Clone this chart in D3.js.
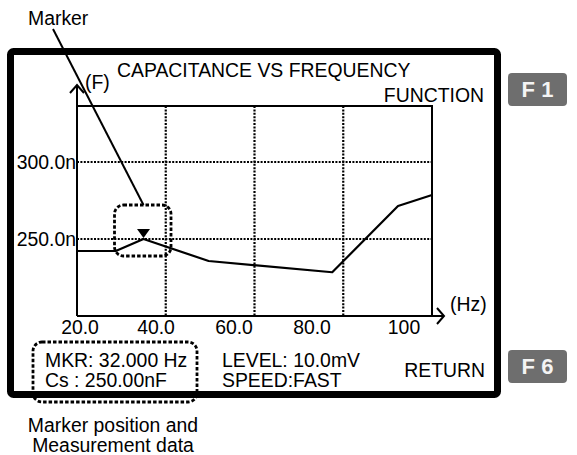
<!DOCTYPE html>
<html>
<head>
<meta charset="utf-8">
<script src="https://cdn.jsdelivr.net/npm/d3@7"></script>
<style>
  html, body { margin: 0; padding: 0; background: #ffffff; }
  svg { display: block; }
  text { font-family: "Liberation Sans", Arial, Helvetica, sans-serif; fill: #000; }
</style>
</head>
<body>
<svg id="chart" width="577" height="455"></svg>
<script>
// Sweep trace: frequency (Hz) and capacitance Cs (nF)
const freqHz = [20, 27, 32, 53.5, 84.4, 98.7, 106];
const capNF  = [242.2, 242.2, 250, 235.7, 228.4, 271.4, 278.6];

// Axis ticks
const xTicks = [20, 40, 60, 80, 100];
const xTickLabels = ["20.0", "40.0", "60.0", "80.0", "100"];
const yTicks = [250, 300];
const yTickLabels = ["250.0n", "300.0n"];

// Marker reading
const markerHz = [32];
const markerNF = [250];

// Screen texts
const titleText = "CAPACITANCE VS FREQUENCY";
const statusLeft = ["MKR: 32.000 Hz", "Cs : 250.00nF"];
const statusMid = ["LEVEL: 10.0mV", "SPEED:FAST"];
const softKeys = ["F 1", "F 6"];
const softKeyLabels = ["FUNCTION", "RETURN"];
const calloutMarker = "Marker";
const calloutData = ["Marker position and", "Measurement data"];

const svg = d3.select("#chart");
const FONT = 19.4;

// Plot box
const plot = { left: 77, right: 432, top: 106, bottom: 316 };

// The display's frequency axis is not uniform: stops follow the labelled divisions
const x = d3.scaleLinear()
  .domain([20, 32, 40, 60, 80, 100, 106])
  .range([77, 143.5, 156, 234, 312, 404, 432]);
const y = d3.scaleLinear().domain([200, 300]).range([plot.bottom, 162]);

// Instrument screen frame
svg.append("rect")
  .attr("x", 10.5).attr("y", 51.5).attr("width", 487).attr("height", 343)
  .attr("rx", 3).attr("fill", "none").attr("stroke", "#000").attr("stroke-width", 7);

// Grid: vertical divisions split the plot in four, horizontal lines at y ticks
const dot = "2,1.4";
const vDiv = d3.range(1, 4).map(i => plot.left + (plot.right - plot.left) * i / 4);
svg.append("g").selectAll("line").data(vDiv).join("line")
  .attr("x1", d => d).attr("x2", d => d)
  .attr("y1", plot.top).attr("y2", plot.bottom)
  .attr("stroke", "#000").attr("stroke-width", 2.2).attr("stroke-dasharray", dot);
svg.append("g").selectAll("line").data(yTicks).join("line")
  .attr("x1", plot.left).attr("x2", plot.right)
  .attr("y1", d => y(d)).attr("y2", d => y(d))
  .attr("stroke", "#000").attr("stroke-width", 2.2).attr("stroke-dasharray", dot);

// Plot border (top and right)
svg.append("path")
  .attr("d", `M${plot.left},${plot.top}H${plot.right}V${plot.bottom}`)
  .attr("fill", "none").attr("stroke", "#000").attr("stroke-width", 2);

// Axes with arrow heads
const axes = svg.append("g").attr("fill", "none").attr("stroke", "#000").attr("stroke-width", 2);
axes.append("path").attr("d", `M${plot.left},${plot.bottom}V85`);
axes.append("path").attr("d", `M${plot.left - 7},93L${plot.left},85L${plot.left + 7},93`);
axes.append("path").attr("d", `M${plot.left},${plot.bottom}H444`);
axes.append("path").attr("d", `M437,308L444,${plot.bottom}L437,324`);

// Tick labels
svg.append("g").selectAll("text").data(xTicks).join("text")
  .attr("x", (d, i) => i === 0 ? x(d) + 3 : x(d)).attr("y", 334)
  .attr("text-anchor", "middle").attr("font-size", FONT)
  .text((d, i) => xTickLabels[i]);
svg.append("g").selectAll("text").data(yTicks).join("text")
  .attr("x", 76).attr("y", d => y(d)).attr("dy", "0.35em")
  .attr("text-anchor", "end").attr("font-size", FONT)
  .text((d, i) => yTickLabels[i]);

// Axis units
svg.append("text").attr("x", 85).attr("y", 89).attr("font-size", FONT).text("(F)");
svg.append("text").attr("x", 450).attr("y", 311).attr("font-size", FONT).text("(Hz)");

// Title and soft-key labels
svg.append("text").attr("x", 117).attr("y", 77).attr("font-size", FONT).text(titleText);
svg.append("text").attr("x", 484).attr("y", 102).attr("text-anchor", "end")
  .attr("font-size", FONT).text(softKeyLabels[0]);
svg.append("text").attr("x", 485).attr("y", 377).attr("text-anchor", "end")
  .attr("font-size", FONT).text(softKeyLabels[1]);

// Trace
const pts = freqHz.map((f, i) => [f, capNF[i]]);
svg.append("path")
  .attr("d", d3.line().x(d => x(d[0])).y(d => y(d[1]))(pts))
  .attr("fill", "none").attr("stroke", "#000").attr("stroke-width", 2.2)
  .attr("stroke-linejoin", "round");

// Marker triangle, pointing down onto the trace
const mx = x(markerHz[0]), my = y(markerNF[0]);
svg.append("path")
  .attr("d", `M${mx - 6.5},${my - 10}L${mx + 6.5},${my - 10}L${mx},${my - 1}Z`)
  .attr("fill", "#000");

// Callout box around the marker and its leader line
const dash = "3.5,2";
const mBox = { x0: mx - 29, x1: mx + 27.5, y0: my - 34, y1: my + 17 };
svg.append("rect")
  .attr("x", mBox.x0).attr("y", mBox.y0)
  .attr("width", mBox.x1 - mBox.x0).attr("height", mBox.y1 - mBox.y0)
  .attr("rx", 9).attr("fill", "none").attr("stroke", "#000")
  .attr("stroke-width", 2.8).attr("stroke-dasharray", dash);
svg.append("line")
  .attr("x1", 53).attr("y1", 29).attr("x2", mx).attr("y2", mBox.y0)
  .attr("stroke", "#000").attr("stroke-width", 2);
svg.append("text").attr("x", 28).attr("y", 25).attr("font-size", FONT).text(calloutMarker);

// Status lines
svg.append("g").selectAll("text").data(statusLeft).join("text")
  .attr("x", 45).attr("y", (d, i) => 367 + i * 20).attr("font-size", FONT).text(d => d);
svg.append("g").selectAll("text").data(statusMid).join("text")
  .attr("x", 222).attr("y", (d, i) => 367 + i * 20).attr("font-size", FONT).text(d => d);

// Callout box around the marker readout
svg.append("rect")
  .attr("x", 33).attr("y", 342).attr("width", 164).attr("height", 60)
  .attr("rx", 9).attr("fill", "none").attr("stroke", "#000")
  .attr("stroke-width", 2.8).attr("stroke-dasharray", dash);
svg.append("g").selectAll("text").data(calloutData).join("text")
  .attr("x", 113).attr("y", (d, i) => 432 + i * 20)
  .attr("text-anchor", "middle").attr("font-size", FONT).text(d => d);

// Soft keys
const keyY = [73, 350];
const keys = svg.append("g").selectAll("g").data(softKeys).join("g")
  .attr("transform", (d, i) => `translate(508,${keyY[i]})`);
keys.append("rect").attr("width", 59).attr("height", 33).attr("rx", 4).attr("fill", "#6e6e6e");
keys.append("text").attr("x", 29.5).attr("y", 24)
  .attr("text-anchor", "middle").attr("font-size", 22).attr("font-weight", "bold")
  .style("fill", "#f4f4f4").text(d => d);
</script>
</body>
</html>
